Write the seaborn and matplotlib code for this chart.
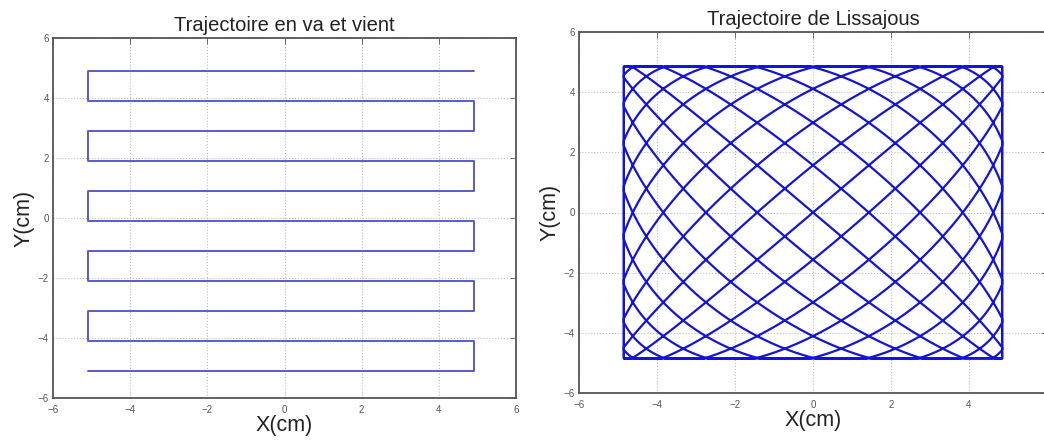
import numpy as np
import pandas as pd
import matplotlib
matplotlib.use("Agg")
import matplotlib.pyplot as plt
import seaborn as sns

# ---- data: back-and-forth (raster) path ----
raster_levels = [4.9, 3.9, 2.9, 1.9, 0.9, -0.1, -1.1, -2.1, -3.1, -4.1, -5.1]
raster_x_left = -5.1
raster_x_right = 4.9

# ---- data: Lissajous parameters (scanner saturates at the frame) ----
liss_amp = 5.08
liss_limit = 4.85
liss_freq_x = 10
liss_freq_y = 11
liss_phase = 0.0
liss_samples = 20000

titles = ["Trajectoire en va et vient", "Trajectoire de Lissajous"]
xlabel = "X(cm)"
ylabel = "Y(cm)"
ticks = [-6, -4, -2, 0, 2, 4, 6]

# build raster path from its levels
rx, ry = [], []
for i, lv in enumerate(raster_levels):
    ends = [raster_x_right, raster_x_left] if i % 2 == 0 else [raster_x_left, raster_x_right]
    rx += ends
    ry += [lv, lv]
raster = pd.DataFrame({"x": rx, "y": ry})

t = np.linspace(0, 2 * np.pi, liss_samples)
liss = pd.DataFrame({
    "x": np.clip(liss_amp * np.sin(liss_freq_x * t + liss_phase), -liss_limit, liss_limit),
    "y": np.clip(liss_amp * np.sin(liss_freq_y * t), -liss_limit, liss_limit),
})

sns.set_style("white")
plt.rcParams['font.family'] = ['Liberation Sans', 'DejaVu Sans']

fig = plt.figure(figsize=(10.44, 4.41), dpi=100)
ax1 = fig.add_axes([53 / 1044, 1 - 398 / 441, 463 / 1044, 360 / 441])
ax2 = fig.add_axes([579 / 1044, 1 - 393 / 441, 468 / 1044, 361 / 441])

sns.lineplot(data=raster, x="x", y="y", sort=False, estimator=None, ax=ax1,
             color="#5a5ad0", linewidth=1.4)
sns.lineplot(data=liss, x="x", y="y", sort=False, estimator=None, ax=ax2,
             color="#1414d8", linewidth=1.6)

for ax, title in zip([ax1, ax2], titles):
    ax.set_xlim(-6, 6)
    ax.set_ylim(-6, 6)
    ax.set_xticks(ticks)
    ax.set_yticks(ticks)
    ax.set_xticklabels([str(v).replace("-", "\u2212") for v in ticks])
    ax.set_yticklabels([str(v).replace("-", "\u2212") for v in ticks])
    ax.tick_params(axis="x", pad=5)
    ax.tick_params(direction="in", length=4, width=0.6, top=True, right=True,
                   labelsize=7, colors="#555555")
    ax.tick_params(axis="y", pad=3)
    ax.grid(True, linestyle=":", color="#bbbbbb", linewidth=0.8)
    for s in ax.spines.values():
        s.set_color("#555555")
        s.set_linewidth(1.3)
    ax.set_title(title, fontsize=14.5, color="#222222", pad=5)
    ax.set_xlabel(xlabel, fontsize=15.5, color="#222222", labelpad=0)
    ax.set_ylabel(ylabel, fontsize=15.5, color="#222222", labelpad=2)

fig.savefig("out.png", dpi=100)
